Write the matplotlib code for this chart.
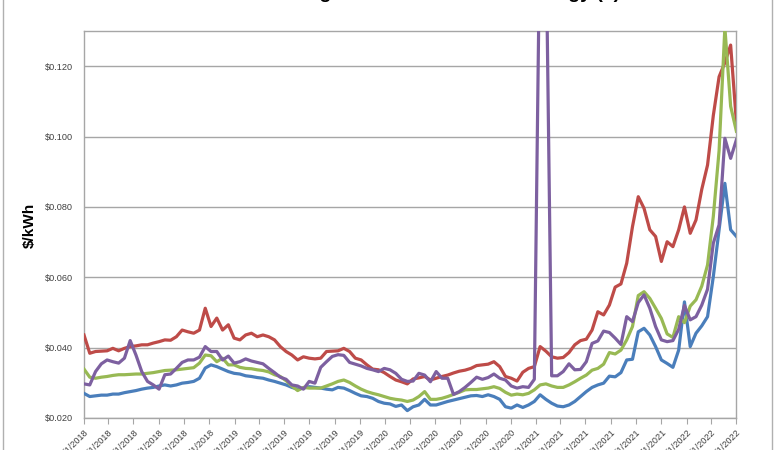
import matplotlib
matplotlib.use("Agg")
import matplotlib.pyplot as plt
from matplotlib.lines import Line2D
import pandas as pd

plt.rcParams["font.family"] = ["Liberation Sans", "DejaVu Sans"]

# bi-weekly samples
DATES = pd.date_range("2018-01-01", periods=114, freq="14D")

BLUE = [
    0.0270, 0.0261, 0.0263, 0.0265, 0.0265, 0.0268, 0.0268, 0.0272, 0.0275, 0.0278,
    0.0282, 0.0285, 0.0287, 0.0291, 0.0294, 0.0291, 0.0294, 0.0299, 0.0301, 0.0304,
    0.0313, 0.0342, 0.0351, 0.0346, 0.0339, 0.0332, 0.0327, 0.0325, 0.0320, 0.0318,
    0.0315, 0.0313, 0.0308, 0.0304, 0.0299, 0.0294, 0.0287, 0.0282, 0.0285, 0.0289,
    0.0287, 0.0285, 0.0282, 0.0280, 0.0287, 0.0285, 0.0278, 0.0270, 0.0263, 0.0261,
    0.0256, 0.0247, 0.0242, 0.0240, 0.0233, 0.0237, 0.0221, 0.0232, 0.0237, 0.0253,
    0.0237, 0.0237, 0.0242, 0.0247, 0.0251, 0.0255, 0.0259, 0.0263, 0.0264, 0.0261,
    0.0266, 0.0261, 0.0253, 0.0232, 0.0228, 0.0237, 0.0230, 0.0237, 0.0247, 0.0266,
    0.0253, 0.0242, 0.0234, 0.0232, 0.0237, 0.0247, 0.0261, 0.0275, 0.0287, 0.0294,
    0.0299, 0.0319, 0.0317, 0.0329, 0.0365, 0.0367, 0.0445, 0.0455, 0.0436, 0.0403,
    0.0365, 0.0355, 0.0344, 0.0393, 0.0530, 0.0403, 0.0441, 0.0462, 0.0488, 0.0602,
    0.0735, 0.0867, 0.0735, 0.0716,
]

RED = [
    0.0436, 0.0384, 0.0389, 0.0390, 0.0391, 0.0398, 0.0391, 0.0398, 0.0403, 0.0405,
    0.0408, 0.0408, 0.0413, 0.0417, 0.0422, 0.0421, 0.0431, 0.0450, 0.0445, 0.0441,
    0.0450, 0.0512, 0.0460, 0.0484, 0.0450, 0.0465, 0.0427, 0.0422, 0.0436, 0.0441,
    0.0431, 0.0436, 0.0431, 0.0422, 0.0403, 0.0389, 0.0379, 0.0365, 0.0374, 0.0370,
    0.0368, 0.0370, 0.0389, 0.0390, 0.0391, 0.0398, 0.0389, 0.0370, 0.0365, 0.0351,
    0.0339, 0.0337, 0.0329, 0.0318, 0.0308, 0.0303, 0.0297, 0.0311, 0.0314, 0.0318,
    0.0308, 0.0313, 0.0318, 0.0322, 0.0328, 0.0333, 0.0336, 0.0341, 0.0349, 0.0351,
    0.0353, 0.0360, 0.0346, 0.0318, 0.0313, 0.0305, 0.0330, 0.0341, 0.0346, 0.0403,
    0.0390, 0.0374, 0.0370, 0.0372, 0.0386, 0.0408, 0.0420, 0.0424, 0.0450, 0.0502,
    0.0493, 0.0521, 0.0572, 0.0581, 0.0640, 0.0744, 0.0829, 0.0796, 0.0735, 0.0716,
    0.0645, 0.0701, 0.0687, 0.0735, 0.0800, 0.0725, 0.0763, 0.0850, 0.0919, 0.1060,
    0.1170, 0.1210, 0.1260, 0.1040,
]

GREEN = [
    0.0339, 0.0316, 0.0313, 0.0316, 0.0318, 0.0321, 0.0323, 0.0323, 0.0324, 0.0325,
    0.0325, 0.0327, 0.0329, 0.0332, 0.0335, 0.0336, 0.0337, 0.0339, 0.0341, 0.0343,
    0.0356, 0.0379, 0.0377, 0.0360, 0.0370, 0.0351, 0.0351, 0.0344, 0.0341, 0.0340,
    0.0337, 0.0335, 0.0331, 0.0323, 0.0318, 0.0306, 0.0291, 0.0278, 0.0287, 0.0285,
    0.0285, 0.0285, 0.0291, 0.0297, 0.0304, 0.0308, 0.0301, 0.0291, 0.0282, 0.0275,
    0.0270, 0.0266, 0.0261, 0.0256, 0.0253, 0.0251, 0.0247, 0.0251, 0.0261, 0.0275,
    0.0253, 0.0253, 0.0256, 0.0261, 0.0267, 0.0273, 0.0280, 0.0281, 0.0281, 0.0283,
    0.0285, 0.0289, 0.0284, 0.0273, 0.0265, 0.0268, 0.0266, 0.0270, 0.0280, 0.0294,
    0.0297, 0.0291, 0.0287, 0.0287, 0.0294, 0.0303, 0.0313, 0.0322, 0.0336, 0.0341,
    0.0353, 0.0386, 0.0382, 0.0393, 0.0422, 0.0460, 0.0548, 0.0559, 0.0540, 0.0512,
    0.0483, 0.0439, 0.0429, 0.0488, 0.0471, 0.0518, 0.0536, 0.0575, 0.0635, 0.0773,
    0.0960, 0.1310, 0.1086, 0.1015,
]

PURPLE = [
    0.0297, 0.0294, 0.0332, 0.0354, 0.0365, 0.0360, 0.0356, 0.0370, 0.0420, 0.0379,
    0.0332, 0.0304, 0.0294, 0.0282, 0.0323, 0.0325, 0.0341, 0.0358, 0.0365, 0.0365,
    0.0373, 0.0403, 0.0389, 0.0389, 0.0365, 0.0376, 0.0356, 0.0360, 0.0368, 0.0362,
    0.0358, 0.0354, 0.0341, 0.0329, 0.0316, 0.0310, 0.0294, 0.0291, 0.0282, 0.0304,
    0.0299, 0.0344, 0.0360, 0.0375, 0.0380, 0.0378, 0.0358, 0.0353, 0.0348, 0.0341,
    0.0337, 0.0332, 0.0341, 0.0337, 0.0327, 0.0310, 0.0304, 0.0305, 0.0327, 0.0322,
    0.0303, 0.0332, 0.0313, 0.0313, 0.0267, 0.0275, 0.0287, 0.0301, 0.0316, 0.0310,
    0.0315, 0.0325, 0.0313, 0.0308, 0.0291, 0.0285, 0.0289, 0.0287, 0.0310, 0.1650,
    0.1600, 0.0320, 0.0320, 0.0332, 0.0354, 0.0337, 0.0338, 0.0360, 0.0412, 0.0419,
    0.0447, 0.0443, 0.0427, 0.0409, 0.0488, 0.0474, 0.0528, 0.0550, 0.0512, 0.0460,
    0.0422, 0.0417, 0.0420, 0.0452, 0.0520, 0.0479, 0.0488, 0.0521, 0.0566, 0.0697,
    0.0749, 0.0995, 0.0938, 0.0991,
]

Y_TICKS = [0.020, 0.040, 0.060, 0.080, 0.100, 0.120]
X_TICKS = pd.date_range("2018-01-01", "2022-05-01", freq="2MS")
TITLE = "Average Wholesale Electric Energy ($)"

fig = plt.figure(figsize=(7.8, 4.5), dpi=100)
ax = fig.add_axes([84 / 780, 1 - 418 / 450, (736 - 84) / 780, (418 - 31) / 450])

series = [(BLUE, "#4A7EBB"), (RED, "#BE4B48"), (GREEN, "#98B954"), (PURPLE, "#7D60A0")]
for i, (vals, color) in enumerate(series):
    ax.plot(DATES, vals, color=color, lw=2.3, zorder=3 + i, solid_joinstyle="round")

ax.set_xlim(pd.Timestamp("2018-01-01"), pd.Timestamp("2022-05-01"))
ax.set_ylim(0.020, 0.130)

ax.set_yticks(Y_TICKS)
ax.set_yticklabels([f"${v:.3f}" for v in Y_TICKS], fontsize=6.6, color="#404040")
ax.tick_params(axis="y", length=0, pad=8)
ax.yaxis.grid(True, color="#A6A6A6", lw=1)
ax.set_axisbelow(True)

ax.set_xticks(X_TICKS)
ax.set_xticklabels([f"{d.month}/{d.day}/{d.year}" for d in X_TICKS], fontsize=6.6,
                   color="#404040", rotation=45, ha="right", va="top", rotation_mode="anchor")
ax.tick_params(axis="x", length=4, color="#A6A6A6", pad=3)

for side in ["left", "right", "top", "bottom"]:
    ax.spines[side].set_color("#A6A6A6")
    ax.spines[side].set_linewidth(1)

ax.set_ylabel("$/kWh", fontsize=11, fontweight="bold")
ax.yaxis.set_label_coords(-47 / 652, (418 - 225) / 387)

# title sits mostly above the cropped top edge, only descenders show
fig.text(443 / 780, 1 + 2 / 450, TITLE, ha="center", va="baseline", fontsize=14, fontweight="bold")

# outer chart frame (top and bottom are cropped)
fig.add_artist(Line2D([3.5 / 780, 3.5 / 780], [0, 1], color="#B0B0B0", lw=1))
fig.add_artist(Line2D([771.5 / 780, 771.5 / 780], [0, 1], color="#B0B0B0", lw=1))

fig.savefig("out.png", dpi=100)
